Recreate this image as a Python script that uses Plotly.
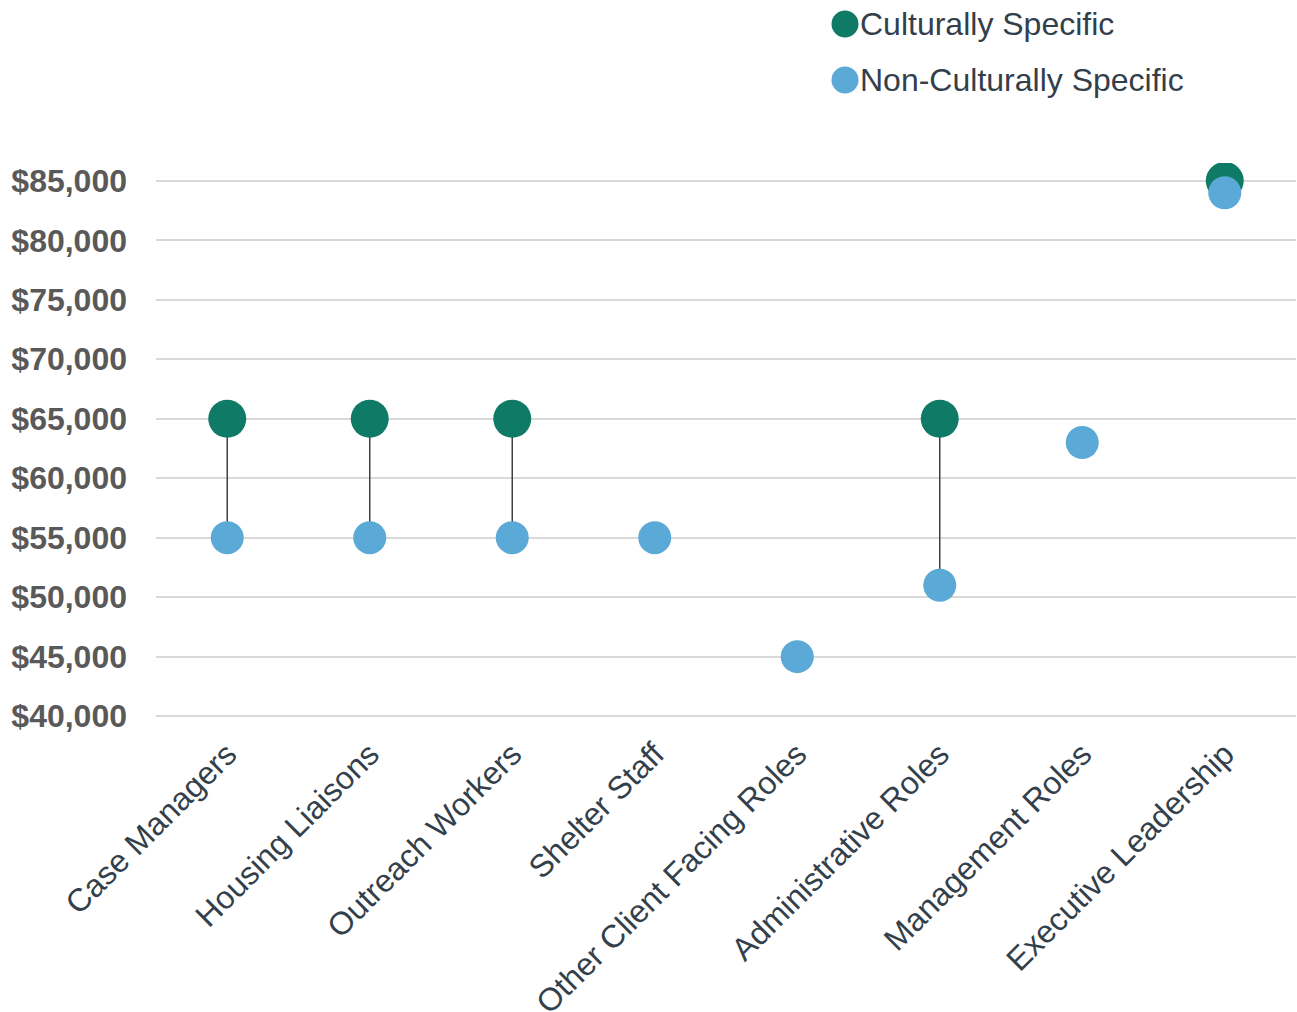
import plotly.graph_objects as go

categories = ["Case Managers", "Housing Liaisons", "Outreach Workers", "Shelter Staff",
              "Other Client Facing Roles", "Administrative Roles", "Management Roles",
              "Executive Leadership"]
culturally_specific = [65000, 65000, 65000, None, None, 65000, None, 85000]
non_culturally_specific = [55000, 55000, 55000, 55000, 45000, 51000, 63000, 84000]
series_names = ["Culturally Specific", "Non-Culturally Specific"]
y_ticks = [40000, 45000, 50000, 55000, 60000, 65000, 70000, 75000, 80000, 85000]
y_tick_labels = ["$40,000", "$45,000", "$50,000", "$55,000", "$60,000", "$65,000",
                 "$70,000", "$75,000", "$80,000", "$85,000"]

GREEN = "#0f7b66"
BLUE = "#5ba9d6"
FONT = "Liberation Sans, Arial, sans-serif"

# connector lines
lx, ly = [], []
for c, a, b in zip(categories, culturally_specific, non_culturally_specific):
    if a is not None and b is not None:
        lx += [c, c, None]
        ly += [a, b, None]

fig = go.Figure()
fig.add_trace(go.Scatter(x=lx, y=ly, mode="lines", line=dict(color="#404040", width=1.5),
                         hoverinfo="skip", showlegend=False))
fig.add_trace(go.Scatter(x=categories, y=culturally_specific, mode="markers",
                         name=series_names[0], marker=dict(color=GREEN, size=38),
                         showlegend=False))
fig.add_trace(go.Scatter(x=categories, y=non_culturally_specific, mode="markers",
                         name=series_names[1], marker=dict(color=BLUE, size=33),
                         showlegend=False))

W, H = 1297, 1012
ml, mr, mt, mb = 156, 1, 163, 284
pw, ph = W - ml - mr, H - mt - mb

def px(x):
    return (x - ml) / pw
def py(y):
    return (H - mb - y) / ph

# manual legend
for name, col, yc in [(series_names[0], GREEN, 24), (series_names[1], BLUE, 80)]:
    fig.add_shape(type="circle", xref="paper", yref="paper", xsizemode="pixel", ysizemode="pixel",
                  xanchor=px(845), yanchor=py(yc), x0=-13.5, x1=13.5, y0=-13.5, y1=13.5,
                  fillcolor=col, line=dict(width=0))
    fig.add_annotation(xref="paper", yref="paper", x=px(858), y=py(yc), xanchor="left",
                       yanchor="middle", text=name, showarrow=False,
                       font=dict(family=FONT, size=32, color="#333f4b"))

fig.update_layout(
    width=W, height=H,
    margin=dict(l=ml, r=mr, t=mt, b=mb, autoexpand=False),
    paper_bgcolor="white", plot_bgcolor="white",
    showlegend=False,
    xaxis=dict(type="category", categoryorder="array", categoryarray=categories,
               range=[-0.5, 7.5], tickangle=-45, showgrid=False, showline=False,
               zeroline=False, automargin=False,
               tickfont=dict(family=FONT, size=32, color="#333f4b"),
               ticks="", ticklabelstandoff=0),
    yaxis=dict(range=[39000, 86500], tickvals=y_ticks, ticktext=y_tick_labels,
               showgrid=True, gridcolor="#d9d9d9", gridwidth=2, zeroline=False,
               showline=False, ticks="", ticklabelstandoff=28, automargin=False,
               tickfont=dict(family=FONT, size=32, color="#595959", weight="bold")),
)

fig.write_html("out.html", config={"displayModeBar": False},
               post_script="document.body.style.margin='0';document.body.style.overflow='hidden';")
